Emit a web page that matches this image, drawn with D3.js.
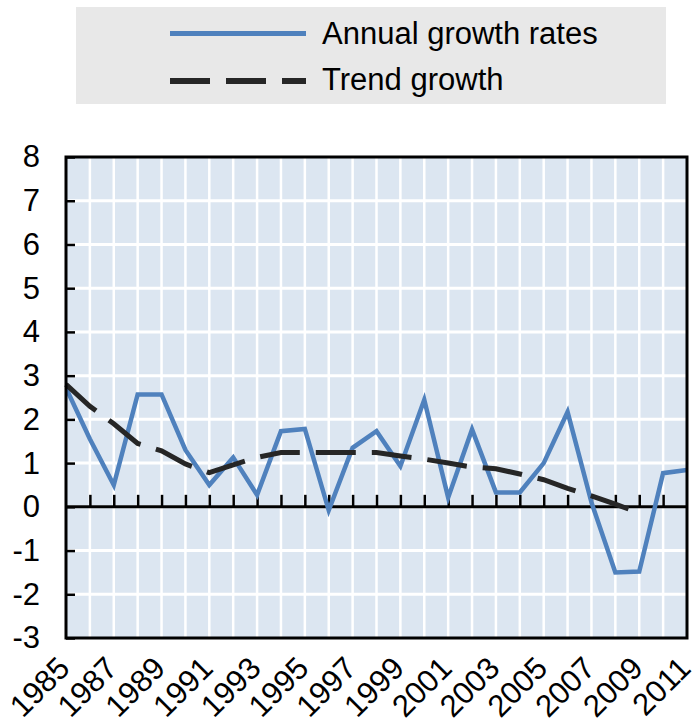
<!DOCTYPE html>
<html>
<head>
<meta charset="utf-8">
<script src="https://cdn.jsdelivr.net/npm/d3@7"></script>
<style>
  html, body { margin: 0; padding: 0; background: #ffffff; }
  svg { display: block; }
  text { font-family: "Liberation Sans", Arial, sans-serif; fill: #000; }
</style>
</head>
<body>
<div id="chart"></div>
<script>
// ---- data ----
const years = d3.range(1985, 2012);
const annualGrowth = [2.72, 1.55, 0.5, 2.57, 2.57, 1.3, 0.5, 1.13, 0.27, 1.73, 1.78, -0.08, 1.35, 1.73,
                      0.93, 2.45, 0.21, 1.77, 0.33, 0.33, 1.0, 2.17, 0.1, -1.5, -1.48, 0.77, 0.84];
const trendYears = d3.range(1985, 2010);
const trendGrowth = [2.8, 2.3, 1.9, 1.45, 1.28, 0.98, 0.78, 0.96, 1.13, 1.24, 1.24, 1.24, 1.24, 1.24,
                     1.16, 1.09, 1.0, 0.91, 0.87, 0.75, 0.62, 0.42, 0.25, 0.06, -0.14];
const yTicks = [-3, -2, -1, 0, 1, 2, 3, 4, 5, 6, 7, 8];
const xLabelYears = d3.range(1985, 2012, 2);
const seriesNames = ["Annual growth rates", "Trend growth"];

const W = 692, H = 724;
const plot = { left: 66, right: 687, top: 157, bottom: 638 };
const blue = "#4f81bd", dark = "#262626", plotBg = "#dce6f1";

const svg = d3.select("#chart").append("svg").attr("width", W).attr("height", H);

const x = d3.scaleLinear().domain([1985, 2011]).range([plot.left, plot.right]);
const y = d3.scaleLinear().domain([-3, 8]).range([plot.bottom, plot.top]);

// ---- legend ----
const lg = svg.append("g");
lg.append("rect").attr("x", 76).attr("y", 7).attr("width", 590).attr("height", 97).attr("fill", "#e8e8e8");
lg.append("line").attr("x1", 170).attr("x2", 306).attr("y1", 33.5).attr("y2", 33.5)
  .attr("stroke", blue).attr("stroke-width", 5);
lg.append("line").attr("x1", 170).attr("x2", 306).attr("y1", 81).attr("y2", 81)
  .attr("stroke", dark).attr("stroke-width", 6).attr("stroke-dasharray", "40,16");
lg.append("text").attr("x", 322).attr("y", 43.5).attr("font-size", 31).text(seriesNames[0]);
lg.append("text").attr("x", 322).attr("y", 90).attr("font-size", 31).text(seriesNames[1]);

// ---- plot background & grid ----
svg.append("rect").attr("x", plot.left).attr("y", plot.top)
  .attr("width", plot.right - plot.left).attr("height", plot.bottom - plot.top).attr("fill", plotBg);

svg.append("g").selectAll("line").data(years.slice(1, -1)).join("line")
  .attr("x1", d => x(d)).attr("x2", d => x(d)).attr("y1", plot.top).attr("y2", plot.bottom)
  .attr("stroke", "#fff").attr("stroke-width", 2.5);
svg.append("g").selectAll("line").data(yTicks.slice(1, -1)).join("line")
  .attr("x1", plot.left).attr("x2", plot.right).attr("y1", d => y(d)).attr("y2", d => y(d))
  .attr("stroke", "#fff").attr("stroke-width", 3);

// ---- y axis (ticks inward, labels outside) ----
const yAxis = svg.append("g").attr("transform", `translate(${plot.left},0)`)
  .call(d3.axisLeft(y).tickValues(yTicks).tickSize(-9).tickPadding(26).tickFormat(d3.format("d")));
yAxis.select(".domain").remove();
yAxis.selectAll(".tick line").attr("stroke", "#000").attr("stroke-width", 2.5);
yAxis.selectAll(".tick text").attr("font-size", 31).attr("font-family", "Liberation Sans, Arial, sans-serif")
  .attr("fill", "#000").text(d => d < 0 ? "-" + Math.abs(d) : String(d));

// ---- zero line with upward ticks ----
const xTickAxis = svg.append("g").attr("transform", `translate(0,${y(0)})`)
  .call(d3.axisBottom(x).tickValues(years.slice(1, -1)).tickSize(-12).tickFormat(""));
xTickAxis.select(".domain").remove();
xTickAxis.selectAll(".tick line").attr("stroke", "#000").attr("stroke-width", 2.5);
svg.append("line").attr("x1", plot.left).attr("x2", plot.right).attr("y1", y(0)).attr("y2", y(0))
  .attr("stroke", "#000").attr("stroke-width", 3);

// ---- x labels ----
const xLab = svg.append("g").attr("transform", `translate(0,${plot.bottom})`)
  .call(d3.axisBottom(x).tickValues(xLabelYears).tickSize(0).tickFormat(d3.format("d")));
xLab.select(".domain").remove();
xLab.selectAll(".tick text")
  .attr("font-size", 31).attr("font-family", "Liberation Sans, Arial, sans-serif").attr("fill", "#000")
  .attr("x", 0).attr("y", 0).attr("dy", 0)
  .attr("text-anchor", "end")
  .attr("transform", "translate(5,32) rotate(-45)");

// ---- series ----
const clip = svg.append("clipPath").attr("id", "plotclip").append("rect")
  .attr("x", plot.left).attr("y", plot.top).attr("width", plot.right - plot.left).attr("height", plot.bottom - plot.top);

const line = d3.line().x(d => x(d[0])).y(d => y(d[1]));
svg.append("path").datum(years.map((yr, i) => [yr, annualGrowth[i]]))
  .attr("clip-path", "url(#plotclip)")
  .attr("d", line).attr("fill", "none").attr("stroke", blue).attr("stroke-width", 4.5)
  .attr("stroke-linejoin", "miter");
svg.append("path").datum(trendYears.map((yr, i) => [yr, trendGrowth[i]]))
  .attr("d", line).attr("fill", "none").attr("stroke", dark).attr("stroke-width", 5)
  .attr("stroke-dasharray", "40,16");

// ---- frame ----
svg.append("rect").attr("x", plot.left).attr("y", plot.top)
  .attr("width", plot.right - plot.left).attr("height", plot.bottom - plot.top)
  .attr("fill", "none").attr("stroke", "#000").attr("stroke-width", 3);
</script>
</body>
</html>
